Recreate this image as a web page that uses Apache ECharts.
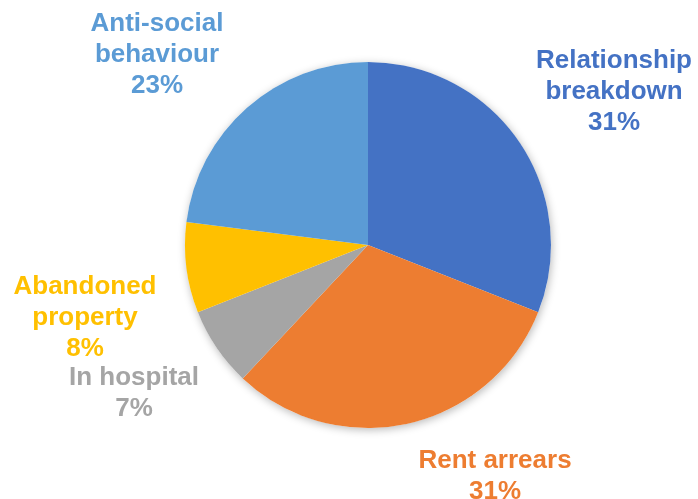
<!DOCTYPE html>
<html>
<head>
<meta charset="utf-8">
<script src="https://cdn.jsdelivr.net/npm/echarts@6/dist/echarts.min.js"></script>
<style>
  html, body { margin: 0; padding: 0; background: #ffffff; }
  #chart { width: 698px; height: 499px; }
</style>
</head>
<body>
<div id="chart"></div>
<script>
// Reasons for tenancy ending, share of cases (%)
const categories = [
  'Relationship\nbreakdown',
  'Rent arrears',
  'In hospital',
  'Abandoned\nproperty',
  'Anti-social\nbehaviour'
];
const shares = [31, 31, 7, 8, 23];
const sliceColors = ['#4472C4', '#ED7D31', '#A5A5A5', '#FFC000', '#5B9BD5'];

// Where each label block sits (centre of the text block, in pixels)
const labelSpots = [
  [614, 92],
  [495, 476],
  [134, 393],
  [85, 318],
  [157, 55]
];

const pieCenter = [368, 245];
const pieRadius = 183;

const chart = echarts.init(document.getElementById('chart'), null, { renderer: 'canvas' });

chart.setOption({
  backgroundColor: '#ffffff',
  animation: false,
  series: [
    {
      // soft drop shadow behind the whole disc
      type: 'pie',
      silent: true,
      z: 1,
      center: pieCenter,
      radius: pieRadius,
      label: { show: false },
      labelLine: { show: false },
      itemStyle: {
        color: '#ffffff',
        shadowBlur: 9,
        shadowColor: 'rgba(0,0,0,0.28)',
        shadowOffsetX: 1,
        shadowOffsetY: 2
      },
      data: [{ value: 1, name: '' }]
    },
    {
      type: 'pie',
      z: 2,
      center: pieCenter,
      radius: pieRadius,
      startAngle: 90,
      clockwise: true,
      avoidLabelOverlap: false,
      itemStyle: { borderWidth: 0 },
      label: {
        show: true,
        position: 'outside',
        formatter: p => p.name + '\n' + p.value + '%',
        fontFamily: 'Liberation Sans',
        fontWeight: 'bold',
        fontSize: 26,
        lineHeight: 31,
        align: 'center'
      },
      labelLine: { show: false },
      labelLayout: params => {
        const spot = labelSpots[params.dataIndex];
        return { x: spot[0], y: spot[1], align: 'center', verticalAlign: 'middle' };
      },
      emphasis: { disabled: true },
      data: categories.map((name, i) => ({
        name: name,
        value: shares[i],
        itemStyle: { color: sliceColors[i] },
        label: { color: sliceColors[i] }
      }))
    }
  ]
});
</script>
</body>
</html>
